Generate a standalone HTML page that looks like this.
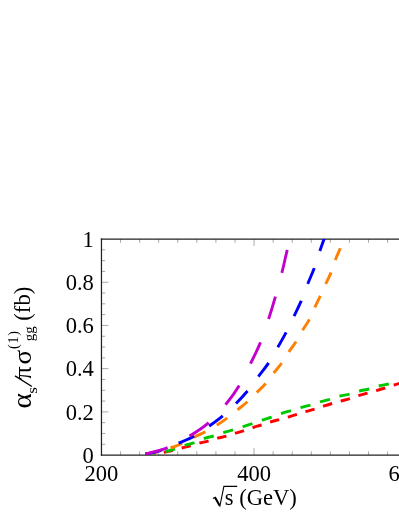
<!DOCTYPE html>
<html><head><meta charset="utf-8"><title>chart</title>
<style>html,body{margin:0;padding:0;background:#fff;}svg{display:block;}text{font-family:"Liberation Serif",serif;fill:#000;}</style></head><body>
<svg width="399" height="516" viewBox="0 0 399 516">
<rect width="399" height="516" fill="#fff"/>
<defs><clipPath id="c"><rect x="101.5" y="239.0" width="320" height="216.1"/></clipPath><filter id="b" x="-5%" y="-5%" width="110%" height="110%"><feGaussianBlur stdDeviation="0.3"/></filter></defs>
<path d="M120.55,455.10v-3.80M120.55,239.00v3.80M139.62,455.10v-3.80M139.62,239.00v3.80M158.69,455.10v-3.80M158.69,239.00v3.80M177.77,455.10v-3.80M177.77,239.00v3.80M196.84,455.10v-3.80M196.84,239.00v3.80M215.92,455.10v-3.80M215.92,239.00v3.80M235.00,455.10v-3.80M235.00,239.00v3.80M254.07,455.10v-7.00M254.07,239.00v7.00M273.14,455.10v-3.80M273.14,239.00v3.80M292.22,455.10v-3.80M292.22,239.00v3.80M311.29,455.10v-3.80M311.29,239.00v3.80M330.37,455.10v-3.80M330.37,239.00v3.80M349.44,455.10v-3.80M349.44,239.00v3.80M368.52,455.10v-3.80M368.52,239.00v3.80M387.60,455.10v-3.80M387.60,239.00v3.80M101.47,444.30h3.80M101.47,433.49h3.80M101.47,422.69h3.80M101.47,411.88h7.00M101.47,401.08h3.80M101.47,390.27h3.80M101.47,379.47h3.80M101.47,368.66h7.00M101.47,357.86h3.80M101.47,347.05h3.80M101.47,336.25h3.80M101.47,325.44h7.00M101.47,314.63h3.80M101.47,303.83h3.80M101.47,293.02h3.80M101.47,282.22h7.00M101.47,271.42h3.80M101.47,260.61h3.80M101.47,249.81h3.80" stroke="#505050" stroke-width="0.5" fill="none"/>
<path d="M420,239.0H100.85M420,455.1H100.85" stroke="#222" stroke-width="1.25" fill="none"/>
<path d="M101.47,238.4V455.7" stroke="#222" stroke-width="1.25" fill="none"/>
<g clip-path="url(#c)" fill="none" stroke-width="2.9">
<path d="M145.30,454.20 C146.92,454.10 151.88,453.90 155.00,453.60 C158.12,453.30 161.33,452.87 164.00,452.40 C166.67,451.93 168.07,451.53 171.00,450.80 C173.93,450.07 178.52,448.80 181.60,448.00 C184.68,447.20 186.50,446.83 189.50,446.00 C192.50,445.17 196.52,443.80 199.60,443.00 C202.68,442.20 205.00,442.00 208.00,441.20 C211.00,440.40 214.58,439.03 217.60,438.20 C220.62,437.37 223.18,437.03 226.10,436.20 C229.02,435.37 232.20,434.10 235.10,433.20 C238.00,432.30 240.60,431.72 243.50,430.80 C246.40,429.88 249.53,428.67 252.50,427.70 C255.47,426.73 258.38,425.93 261.30,425.00 C264.22,424.07 266.98,423.02 270.00,422.10 C273.02,421.18 276.38,420.33 279.40,419.50 C282.42,418.67 285.15,417.95 288.10,417.10 C291.05,416.25 294.17,415.32 297.10,414.40 C300.03,413.48 302.77,412.50 305.70,411.60 C308.63,410.70 311.77,409.90 314.70,409.00 C317.63,408.10 320.42,407.12 323.30,406.20 C326.18,405.28 329.12,404.35 332.00,403.50 C334.88,402.65 337.58,401.93 340.60,401.10 C343.62,400.27 347.12,399.40 350.10,398.50 C353.08,397.60 355.57,396.60 358.50,395.70 C361.43,394.80 364.77,393.93 367.70,393.10 C370.63,392.27 373.20,391.55 376.10,390.70 C379.00,389.85 382.08,388.95 385.10,388.00 C388.12,387.05 391.22,385.93 394.20,385.00 C397.18,384.07 400.03,383.27 403.00,382.40 C405.97,381.53 410.50,380.23 412.00,379.80" stroke="#ff0000" stroke-dasharray="9.5 8.94" stroke-dashoffset="-0.1"/>
<path d="M145.30,454.20 C146.92,454.05 151.72,453.73 155.00,453.30 C158.28,452.87 162.08,452.22 165.00,451.60 C167.92,450.98 169.27,450.60 172.50,449.60 C175.73,448.60 180.88,446.73 184.40,445.60 C187.92,444.47 190.27,444.00 193.60,442.80 C196.93,441.60 201.07,439.53 204.40,438.40 C207.73,437.27 210.40,436.97 213.60,436.00 C216.80,435.03 220.35,433.63 223.60,432.60 C226.85,431.57 229.85,430.80 233.10,429.80 C236.35,428.80 239.87,427.62 243.10,426.60 C246.33,425.58 249.35,424.78 252.50,423.70 C255.65,422.62 258.82,421.20 262.00,420.10 C265.18,419.00 268.42,418.18 271.60,417.10 C274.78,416.02 277.85,414.68 281.10,413.60 C284.35,412.52 287.83,411.60 291.10,410.60 C294.37,409.60 297.47,408.53 300.70,407.60 C303.93,406.67 307.28,405.97 310.50,405.00 C313.72,404.03 316.75,402.75 320.00,401.80 C323.25,400.85 326.73,400.25 330.00,399.30 C333.27,398.35 336.32,396.97 339.60,396.10 C342.88,395.23 346.45,394.93 349.70,394.10 C352.95,393.27 355.87,391.95 359.10,391.10 C362.33,390.25 365.83,389.85 369.10,389.00 C372.37,388.15 375.43,386.83 378.70,386.00 C381.97,385.17 385.48,384.65 388.70,384.00 C391.92,383.35 396.45,382.42 398.00,382.10" stroke="#00c800" stroke-dasharray="10.3 10.02" stroke-dashoffset="0.15"/>
<path d="M145.30,454.20 C147.25,453.83 152.88,453.03 157.00,452.00 C161.12,450.97 166.50,449.13 170.00,448.00 C173.50,446.87 174.00,447.00 178.00,445.20 C182.00,443.40 189.45,439.45 194.00,437.20 C198.55,434.95 201.47,433.73 205.30,431.70 C209.13,429.67 213.37,427.27 217.00,425.00 C220.63,422.73 223.65,420.65 227.10,418.10 C230.55,415.55 234.30,412.43 237.70,409.70 C241.10,406.97 244.33,404.57 247.50,401.70 C250.67,398.83 253.70,395.50 256.70,392.50 C259.70,389.50 262.67,386.95 265.50,383.70 C268.33,380.45 271.05,376.37 273.70,373.00 C276.35,369.63 278.80,367.12 281.40,363.50 C284.00,359.88 286.90,354.88 289.30,351.30 C291.70,347.72 293.55,345.57 295.80,342.00 C298.05,338.43 300.58,333.58 302.80,329.90 C305.02,326.22 307.10,323.67 309.10,319.90 C311.10,316.13 312.97,311.22 314.80,307.30 C316.63,303.38 318.28,300.30 320.10,296.40 C321.92,292.50 323.88,287.87 325.70,283.90 C327.52,279.93 329.40,276.60 331.00,272.60 C332.60,268.60 333.75,263.95 335.30,259.90 C336.85,255.85 338.92,251.62 340.30,248.30 C341.68,244.98 342.40,243.05 343.60,240.00 C344.80,236.95 346.85,231.67 347.50,230.00" stroke="#ff8000" stroke-dasharray="12.7 13.18" stroke-dashoffset="-0.02"/>
<path d="M145.30,454.20 C147.25,453.77 153.22,452.70 157.00,451.60 C160.78,450.50 164.40,449.00 168.00,447.60 C171.60,446.20 174.27,445.08 178.60,443.20 C182.93,441.32 188.88,439.17 194.00,436.30 C199.12,433.43 204.50,429.42 209.30,426.00 C214.10,422.58 218.35,419.55 222.80,415.80 C227.25,412.05 231.88,407.63 236.00,403.50 C240.12,399.37 243.72,395.55 247.50,391.00 C251.28,386.45 255.18,380.90 258.70,376.20 C262.22,371.50 265.40,367.65 268.60,362.80 C271.80,357.95 275.00,352.12 277.90,347.10 C280.80,342.08 283.28,337.90 286.00,332.70 C288.72,327.50 291.67,321.20 294.20,315.90 C296.73,310.60 298.93,306.27 301.20,300.90 C303.47,295.53 305.65,289.10 307.80,283.70 C309.95,278.30 312.10,273.93 314.10,268.50 C316.10,263.07 318.13,256.02 319.80,251.10 C321.47,246.18 322.87,242.52 324.10,239.00 C325.33,235.48 326.68,231.50 327.20,230.00" stroke="#0000ff" stroke-dasharray="17.1 18.02" stroke-dashoffset="-0.05"/>
<path d="M145.30,454.20 C149.08,453.07 160.62,450.43 168.00,447.40 C175.38,444.37 182.85,440.10 189.60,436.00 C196.35,431.90 202.48,428.05 208.50,422.80 C214.52,417.55 220.60,410.68 225.70,404.50 C230.80,398.32 234.97,392.52 239.10,385.70 C243.23,378.88 246.93,370.82 250.50,363.60 C254.07,356.38 257.47,349.88 260.50,342.40 C263.53,334.92 266.25,326.22 268.70,318.70 C271.15,311.18 273.00,304.97 275.20,297.30 C277.40,289.63 279.93,280.45 281.90,272.70 C283.87,264.95 285.65,256.42 287.00,250.80 C288.35,245.18 289.08,242.63 290.00,239.00 C290.92,235.37 292.08,230.67 292.50,229.00" stroke="#c400cc" stroke-dasharray="23.5 24.66" stroke-dashoffset="0.2"/>
</g>
<g filter="url(#b)">
<text transform="translate(93.9,462.75) scale(0.94,1)" font-size="24" text-anchor="end">0</text>
<text transform="translate(93.9,419.53) scale(0.94,1)" font-size="24" text-anchor="end">0.2</text>
<text transform="translate(93.9,376.31) scale(0.94,1)" font-size="24" text-anchor="end">0.4</text>
<text transform="translate(93.9,333.09) scale(0.94,1)" font-size="24" text-anchor="end">0.6</text>
<text transform="translate(93.9,289.87) scale(0.94,1)" font-size="24" text-anchor="end">0.8</text>
<text transform="translate(93.9,246.65) scale(0.94,1)" font-size="24" text-anchor="end">1</text>
<text transform="translate(101.47,481.3) scale(0.94,1)" font-size="24" text-anchor="middle">200</text>
<text transform="translate(254.07,481.3) scale(0.94,1)" font-size="24" text-anchor="middle">400</text>
<text transform="translate(405.47,481.3) scale(0.94,1)" font-size="24" text-anchor="middle">600</text>
<path d="M212.9,498.6L215.3,497.3L219.9,506.0L223.9,486.4H237.2" stroke="#000" stroke-width="1.1" fill="none" stroke-linejoin="miter"/>
<path d="M215.0,497.6L219.6,505.6" stroke="#000" stroke-width="2.0" fill="none"/>
<text x="224.7" y="505.4" font-size="22.6">s (GeV)</text>
<g transform="rotate(-90)">
<text transform="translate(-408.57,31.00) scale(1.08,1)" font-size="27">α</text>
<text transform="translate(-393.69,37.00) scale(1.15,1)" font-size="15">s</text>
<text transform="translate(-379.46,31.00) scale(1.0,1)" font-size="26">π</text>
<text transform="translate(-364.48,31.00) scale(1.04,1)" font-size="26">σ</text>
<text transform="translate(-349.06,17.50) scale(1.0,1)" font-size="14" letter-spacing="0.8">(1)</text>
<text transform="translate(-341.20,34.30) scale(1.0,1)" font-size="15">gg</text>
<text transform="translate(-320.71,29.80) scale(0.99,1)" font-size="23">(fb)</text>
</g>
<path d="M31.9,386.5L15.0,375.9" stroke="#000" stroke-width="1.3" fill="none"/>
</g>
</svg></body></html>
